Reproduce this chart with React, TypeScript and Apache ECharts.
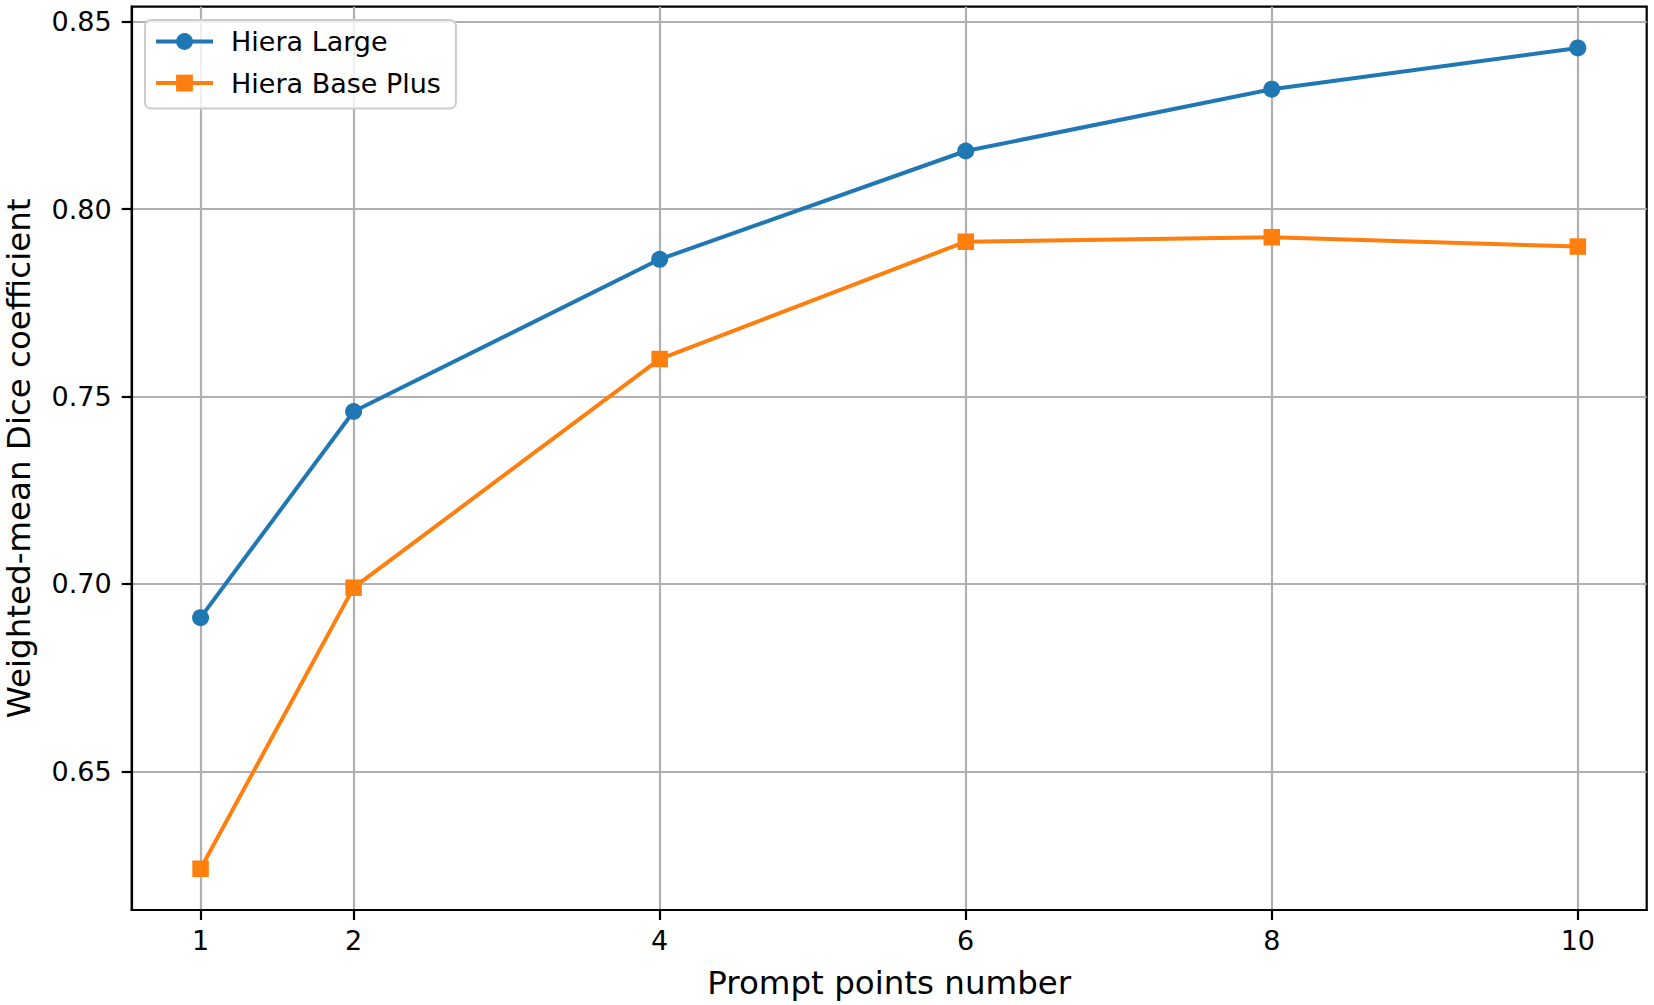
import React, { useEffect, useRef } from "react";
import * as echarts from "echarts";

const promptPoints = [1, 2, 4, 6, 8, 10];
const hieraLarge = [0.691, 0.746, 0.7866, 0.8155, 0.832, 0.843];
const hieraBasePlus = [0.624, 0.699, 0.760, 0.7913, 0.7925, 0.790];
const xTicks = [1, 2, 4, 6, 8, 10];
const yTicks = [0.65, 0.7, 0.75, 0.8, 0.85];
const seriesNames = ["Hiera Large", "Hiera Base Plus"];

const FONT = "DejaVu Sans";

export default function App() {
  const ref = useRef<HTMLDivElement>(null);
  useEffect(() => {
    if (!ref.current) return;
    const chart = echarts.init(ref.current, undefined, { renderer: "svg" });
    const axisLineStyle = { color: "#000", width: 2.2 };
    chart.setOption({
      animation: false,
      backgroundColor: "#fff",
      textStyle: { fontFamily: FONT },
      grid: {
        left: 131.7,
        top: 6.7,
        right: 7.3,
        bottom: 95,
        show: true,
        borderColor: "#000",
        borderWidth: 2.2,
        containLabel: false,
        outerBoundsMode: "none",
      },
      legend: {
        orient: "vertical",
        left: 145,
        top: 20,
        padding: [8, 15, 12, 9],
        itemWidth: 57,
        itemHeight: 21,
        itemGap: 14.6,
        backgroundColor: "rgba(255,255,255,0.8)",
        borderColor: "#cccccc",
        borderWidth: 2,
        borderRadius: 6,
        lineStyle: { width: 4 },
        textStyle: {
          fontFamily: FONT,
          fontSize: 27,
          color: "#000",
          lineHeight: 27,
          padding: [0, 0, 0, 13],
        },
        data: seriesNames,
      },
      xAxis: {
        type: "value",
        min: 0.55,
        max: 10.45,
        name: "Prompt points number",
        nameLocation: "middle",
        nameGap: 56,
        nameTextStyle: { fontFamily: FONT, fontSize: 32.5, color: "#000" },
        axisLine: { show: true, lineStyle: axisLineStyle },
        axisTick: { show: true, length: 10, lineStyle: axisLineStyle, customValues: xTicks },
        axisLabel: {
          customValues: xTicks,
          fontFamily: FONT,
          fontSize: 27,
          color: "#000",
          margin: 17,
          formatter: (v: number) => String(v),
        },
        splitLine: { show: true, lineStyle: { color: "#b0b0b0", width: 2.2 } },
      },
      yAxis: {
        type: "value",
        min: 0.613,
        max: 0.854,
        name: "Weighted-mean Dice coefficient",
        nameLocation: "middle",
        nameRotate: 90,
        nameGap: 96,
        nameTextStyle: { fontFamily: FONT, fontSize: 32.5, color: "#000" },
        axisLine: { show: true, lineStyle: axisLineStyle },
        axisTick: { show: true, length: 10, lineStyle: axisLineStyle, customValues: yTicks },
        axisLabel: {
          customValues: yTicks,
          fontFamily: FONT,
          fontSize: 27,
          color: "#000",
          margin: 20,
          formatter: (v: number) => v.toFixed(2),
        },
        splitLine: { show: true, lineStyle: { color: "#b0b0b0", width: 2.2 } },
      },
      series: [
        {
          name: seriesNames[0],
          type: "line",
          data: promptPoints.map((x, i) => [x, hieraLarge[i]]),
          symbol: "circle",
          symbolSize: 17,
          color: "#1f77b4",
          lineStyle: { width: 4, color: "#1f77b4" },
          itemStyle: { color: "#1f77b4" },
          z: 3,
        },
        {
          name: seriesNames[1],
          type: "line",
          data: promptPoints.map((x, i) => [x, hieraBasePlus[i]]),
          symbol: "rect",
          symbolSize: 16.5,
          color: "#ff7f0e",
          lineStyle: { width: 4, color: "#ff7f0e" },
          itemStyle: { color: "#ff7f0e" },
          z: 3,
        },
      ],
    });
    return () => chart.dispose();
  }, []);
  return (
    <div
      ref={ref}
      style={{ position: "absolute", left: 0, top: 0, width: 1654, height: 1005 }}
    />
  );
}
